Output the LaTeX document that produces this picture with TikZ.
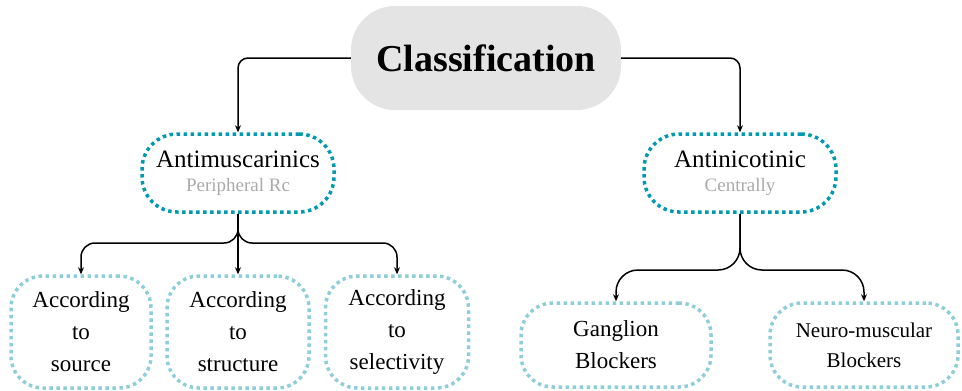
\documentclass[tikz,border=0pt]{standalone}
\usepackage{fontspec}
\setmainfont{Liberation Serif}
\usepackage{xcolor}
\usetikzlibrary{arrows.meta,positioning}
\definecolor{tealdark}{RGB}{0,153,176}
\definecolor{teallight}{RGB}{142,206,216}
\definecolor{rootgray}{RGB}{228,228,228}
\definecolor{subgray}{RGB}{170,170,170}

\begin{document}
\begin{tikzpicture}[
  x=1pt, y=-1pt,
  root/.style={fill=rootgray, rounded corners=44pt,
               minimum width=270pt, minimum height=104pt,
               font=\fontsize{38}{42}\selectfont\bfseries, align=center},
  lvtwo/.style={draw=tealdark, line width=3.5pt, dash pattern=on 3.5pt off 3.5pt,
                rounded corners=35pt, minimum width=192pt, minimum height=78pt,
                font=\fontsize{25}{30}\selectfont, align=center},
  lvthree/.style={draw=teallight, line width=3.5pt, dash pattern=on 3.5pt off 3.5pt,
                  rounded corners=32pt, minimum height=84pt,
                  font=\fontsize{23}{32}\selectfont, align=center},
  arr/.style={-{Stealth[length=7pt,width=6pt]}, line width=1.5pt}
]
\useasboundingbox (0,0) rectangle (962,391);
\node[root] (cls) at (486,58) {Classification};
\node[lvtwo] (amus) at (238,173) {Antimuscarinics\\[-6pt]{\fontsize{19}{20}\selectfont\color{subgray}Peripheral Rc}};
\node[lvtwo] (anic) at (740,173) {Antinicotinic\\[-6pt]{\fontsize{19}{20}\selectfont\color{subgray}Centrally}};
\node[lvthree, minimum width=140pt, minimum height=112pt] (src)  at (81,332)  {According\\to\\source};
\node[lvthree, minimum width=142pt, minimum height=112pt] (strc) at (238,332) {According\\to\\structure};
\node[lvthree, minimum width=143pt, minimum height=112pt] (sel)  at (397,332) {According\\to\\selectivity};
\node[lvthree, minimum width=190pt] (gang) at (616,345) {Ganglion\\Blockers};
\node[lvthree, minimum width=188pt, font=\fontsize{21}{30}\selectfont] (nmb) at (864,345) {Neuro-muscular\\Blockers};
% root to level two
\draw[arr, rounded corners=10pt] (cls.west) -| (amus.north);
\draw[arr, rounded corners=10pt] (cls.east) -| (anic.north);
% antimuscarinics branches
\draw[arr, rounded corners=14pt] (amus.south) -- (238,243) -| (src.north);
\draw[arr, rounded corners=14pt] (amus.south) -- (238,243) -| (sel.north);
\draw[arr] (amus.south) -- (strc.north);
% antinicotinic branches
\draw[arr, rounded corners=22pt] (anic.south) -- (740,270) -| (gang.north);
\draw[arr, rounded corners=22pt] (anic.south) -- (740,270) -| (nmb.north);
\end{tikzpicture}
\end{document}
